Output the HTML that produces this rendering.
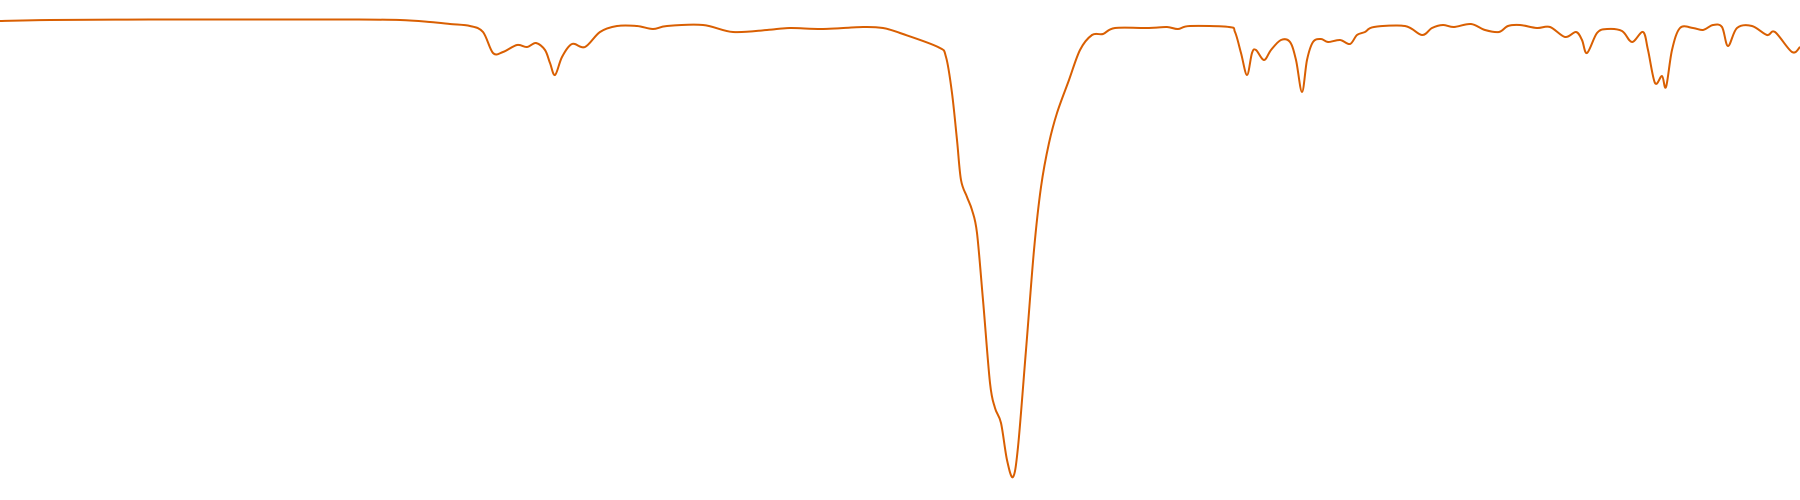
<!DOCTYPE html>
<html><head><meta charset="utf-8"><style>
html,body{margin:0;padding:0;background:#fff;width:1800px;height:500px;overflow:hidden}
svg{display:block}
</style></head><body>
<svg id="chart" width="1800" height="500" viewBox="0 0 1800 500"></svg>
<script>
const wavePos = [0,50,150,250,350,400,430,450,470,483,493,503,517,527,536,545,550,555,562,572,585,600,617,637,653,667,703,733,767,790,823,863,883,900,938,946,952,957,961,967,972,977,983,990,995,1001,1007,1013,1018,1026,1034,1041,1049,1057,1069,1080,1092,1103,1115,1149,1167,1178,1190,1229,1235,1241,1247,1252,1256,1264,1271,1281,1290,1296,1302,1307,1313,1321,1328,1340,1350,1357,1365,1374,1405,1422,1432,1443,1454,1471,1485,1499,1508,1520,1537,1550,1565,1576,1582,1587,1597,1607,1622,1632,1643,1648,1655,1662,1666,1672,1680,1693,1703,1713,1722,1728,1737,1752,1767,1775,1792,1800];
const depth = [1,0,-0.5,-0.5,-0.5,0,2,4,6,12,33,32,25,27,23,30,43,55,37,24,27,12,6,6,9,6,5,12,10,8,9,7,8,13,27,37,73,120,160,177,190,213,280,363,388,403,440,457,427,330,230,167,123,93,60,30,15,14,8,8,7,9,6,7,12,33,55,33,30,40,30,20,22,40,72,40,22,19,22,20,24,15,12,7,6,15,8,5,7,4,10,12,6,5,8,7,17,12,20,33,13,9,11,22,12,30,63,56,67,30,8,8,10,5,7,26,8,6,15,12,32,27];
const svg = document.getElementById('chart');
const xScale = v => v * (1800/1800);
const yScale = d => 20 + d;
const pts = wavePos.map((w,i)=>[xScale(w), yScale(depth[i])]);
let dstr = 'M' + pts[0][0] + ',' + pts[0][1];
for (let i=0;i<pts.length-1;i++){
  const p0 = pts[Math.max(0,i-1)], p1 = pts[i], p2 = pts[i+1], p3 = pts[Math.min(pts.length-1,i+2)];
  const c1x = p1[0] + (p2[0]-p0[0])/6, c1y = p1[1] + (p2[1]-p0[1])/6;
  const c2x = p2[0] - (p3[0]-p1[0])/6, c2y = p2[1] - (p3[1]-p1[1])/6;
  dstr += 'C' + c1x.toFixed(1)+','+c1y.toFixed(1)+' '+c2x.toFixed(1)+','+c2y.toFixed(1)+' '+p2[0].toFixed(1)+','+p2[1].toFixed(1);
}
const p = document.createElementNS('http://www.w3.org/2000/svg','path');


p.setAttribute('d', dstr);
p.setAttribute('fill', 'none');
p.setAttribute('stroke', '#d95f02');
p.setAttribute('stroke-width', '2');
p.setAttribute('stroke-linejoin', 'round');
svg.appendChild(p);
</script>
</body></html>
